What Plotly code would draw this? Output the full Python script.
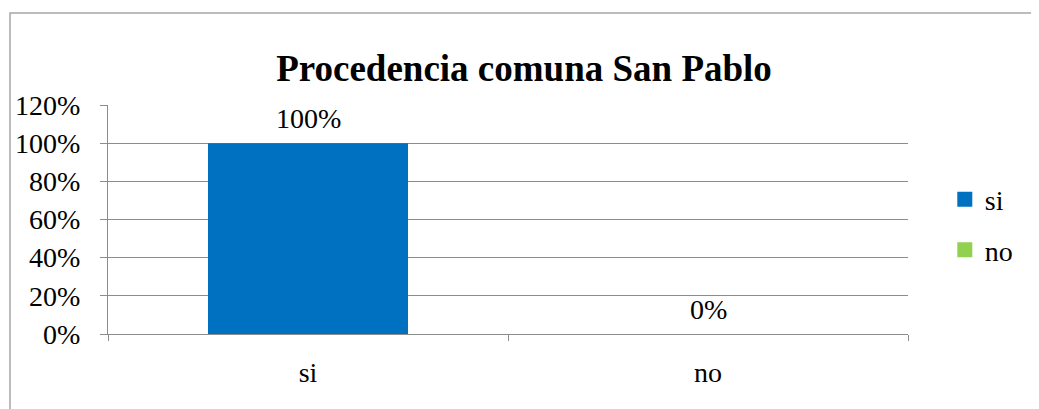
"""Procedencia comuna San Pablo - bar chart recreated with Plotly."""

import plotly.graph_objects as go

categories = ["si", "no"]
values = [1.0, 0.0]
bar_colors = ["#0070C0", "#92D050"]
y_ticks = [0, 0.2, 0.4, 0.6, 0.8, 1.0, 1.2]

FONT = "Liberation Serif"

fig = go.Figure()
for cat, val, color in zip(categories, values, bar_colors):
    fig.add_trace(
        go.Bar(
            x=[cat],
            y=[val],
            name=cat,
            marker=dict(color=color, line=dict(width=0)),
            offsetgroup="a",
            showlegend=False,
        )
    )
    # legend proxy with a bigger square swatch, like the Excel legend
    fig.add_trace(
        go.Scatter(
            x=[None],
            y=[None],
            mode="markers",
            name=cat,
            legendgroup=cat,
            marker=dict(symbol="square", size=15, color=color),
            showlegend=True,
        )
    )
    # data label sits well above the bar top, as Excel does
    fig.add_annotation(
        x=cat,
        y=val,
        text=f"{val:.0%}",
        showarrow=False,
        yanchor="middle",
        yshift=25,
        font=dict(family=FONT, size=28, color="#000000"),
    )

# the page adds an 8px body margin, margins below account for it
fig.update_layout(
    width=1039,
    height=409,
    margin=dict(l=100, r=139, t=97, b=83, autoexpand=False),
    paper_bgcolor="#ffffff",
    plot_bgcolor="#ffffff",
    font=dict(family=FONT, color="#000000", size=28),
    title=dict(
        text="<b>Procedencia comuna San Pablo</b>",
        x=0.52,
        xanchor="center",
        xref="paper",
        y=0.853,
        yanchor="middle",
        font=dict(family=FONT, size=37, color="#000000"),
    ),
    bargap=0.5,
    showlegend=True,
    legend=dict(
        x=1.046,
        y=0.478,
        xanchor="left",
        yanchor="middle",
        font=dict(family=FONT, size=28),
        tracegroupgap=11,
        itemwidth=30,
        bgcolor="rgba(0,0,0,0)",
    ),
    shapes=[
        dict(
            type="rect",
            xref="paper",
            yref="paper",
            x0=(10 - 108) / 800,
            x1=(1080 - 108) / 800,
            y0=(334 - 440) / 229,
            y1=(334 - 13) / 229,
            line=dict(color="#a6a6a6", width=1.5),
            fillcolor="rgba(0,0,0,0)",
            layer="below",
        )
    ],
)

fig.update_yaxes(
    range=[0, 1.2],
    tickvals=y_ticks,
    tickformat=".0%",
    showgrid=True,
    gridcolor="#8c8c8c",
    gridwidth=1,
    showline=True,
    linecolor="#8c8c8c",
    linewidth=1,
    ticks="outside",
    ticklen=7,
    tickcolor="#8c8c8c",
    zeroline=False,
    automargin=False,
    ticklabelstandoff=14,
    tickfont=dict(family=FONT, size=28),
)
fig.update_xaxes(
    showline=True,
    linecolor="#8c8c8c",
    linewidth=1,
    ticks="outside",
    tickson="boundaries",
    ticklen=6,
    tickcolor="#8c8c8c",
    showgrid=False,
    automargin=False,
    ticklabelstandoff=13,
    tickfont=dict(family=FONT, size=28),
)

fig.write_html("out.html")
